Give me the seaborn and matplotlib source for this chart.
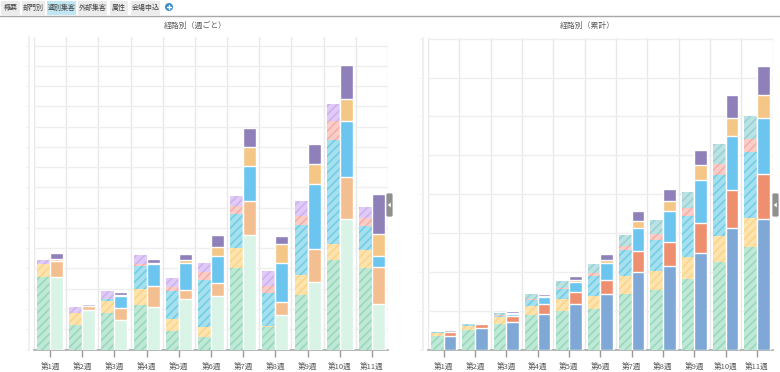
#!/usr/bin/env python3
#
# Weekly and cumulative visitors per channel, paired stacked bars
#
import numpy as np
import pandas as pd
import matplotlib
matplotlib.use('Agg')
import matplotlib.pyplot as plt
from matplotlib.patches import FancyBboxPatch, Rectangle, Circle, Polygon
import seaborn as sns

weeks = ['第1週', '第2週', '第3週', '第4週', '第5週', '第6週', '第7週', '第8週', '第9週', '第10週', '第11週']
tabs = ['概要', '部門別', '週別集客', '外部集客', '属性', '会場申込']
titles = ['経路別（週ごと）', '経路別（累計）']

# Weekly, hatched bar
week_a1 = [36.0, 12.2, 18.1, 22.1, 9.2, 6.1, 40.0, 11.0, 26.8, 44.1, 40.0]
week_a2 = [6.1, 5.9, 5.8, 7.9, 5.8, 4.8, 9.9, 0.7, 10.0, 8.2, 9.1]
week_a3 = [0, 0, 1.2, 11.4, 13.8, 23.5, 17.0, 16.3, 24.7, 51.0, 11.7]
week_a4 = [0, 0, 0, 0.7, 2.0, 3.8, 4.1, 3.5, 4.6, 9.7, 4.0]
week_a5 = [2.1, 3.0, 3.8, 4.6, 4.6, 4.6, 4.9, 7.4, 7.1, 8.2, 5.8]
# Weekly, solid bar
week_b1 = [36.0, 19.6, 14.6, 20.9, 24.7, 26.5, 56.5, 16.8, 33.1, 64.5, 22.4]
week_b2 = [7.9, 1.8, 5.8, 10.5, 4.9, 6.3, 16.8, 6.6, 16.5, 20.6, 18.3]
week_b3 = [0, 0, 5.8, 10.7, 13.0, 13.3, 17.4, 19.4, 31.9, 27.5, 5.6]
week_b4 = [0.7, 0.2, 0.8, 0.5, 1.6, 4.6, 9.5, 9.2, 10.0, 10.9, 10.9]
week_b5 = [3.0, 1.0, 1.2, 2.1, 2.8, 5.8, 9.1, 4.1, 10.0, 16.8, 19.6]
# Cumulative, hatched bar
total_a1 = [36, 49, 66, 88, 98, 104, 142, 154, 181, 226, 265]
total_a2 = [6, 12, 17, 25, 32, 35, 48, 48, 57, 66, 74]
total_a3 = [2, 3, 4, 14, 25, 50, 65, 81, 106, 156, 170]
total_a4 = [0, 0, 1, 3, 3, 8, 11, 15, 20, 29, 34]
total_a5 = [1, 2, 6, 12, 19, 22, 28, 36, 42, 52, 57]
# Cumulative, solid bar
total_b1 = [36, 56, 70, 91, 116, 142, 199, 215, 249, 313, 336]
total_b2 = [9, 9, 15, 26, 31, 38, 54, 61, 77, 98, 115]
total_b3 = [0, 1, 6, 17, 28, 42, 60, 81, 111, 139, 145]
total_b4 = [1, 1, 2, 3, 4, 9, 17, 26, 37, 47, 59]
total_b5 = [3, 3, 5, 7, 10, 15, 26, 29, 40, 57, 76]

# Colours: (hatch line, hatch background)
hatch_week = [('#98d9be', '#bfe8d6'), ('#fcd58a', '#fde3ae'), ('#72cde7', '#a6e0ef'),
              ('#f6afa9', '#f9cdc8'), ('#d0b0f0', '#e0cbf6')]
hatch_total = [('#98d9be', '#bfe8d6'), ('#fcd58a', '#fde3ae'), ('#72cde7', '#a6e0ef'),
               ('#f6afa9', '#f9cdc8'), ('#99d2d4', '#bce2e3')]
solid_week = ['#d9f3e6', '#f4bf90', '#6cc5ee', '#f4c786', '#9080b9']
solid_total = ['#80a8d6', '#ee9070', '#6cc5ee', '#f4c786', '#9080b9']

W, H = 780, 372
sns.set_theme(style='white')
plt.rcParams['font.family'] = ['Noto Sans CJK JP', 'DejaVu Sans']
plt.rcParams['hatch.linewidth'] = 1.2
text_color = '#5c5c5c'


def draw_panel(ax, a_rows, b_rows, hatch_cols, solid_cols, step, ymax, nstep):
    tops_a = np.cumsum(a_rows, axis=0)
    tops_b = np.cumsum(b_rows, axis=0)
    # Tallest layer first, each lower layer painted over it
    for i in range(4, -1, -1):
        df = pd.DataFrame({
            'week': weeks * 2,
            'top': np.concatenate([tops_a[i], tops_b[i]]),
            'bar': ['a'] * 11 + ['b'] * 11,
        })
        sns.barplot(
            data=df, x='week', y='top', hue='bar', order=weeks, hue_order=['a', 'b'],
            palette={'a': hatch_cols[i][1], 'b': solid_cols[i]},
            width=0.81, gap=0, saturation=1, legend=False, ax=ax, zorder=3,
        )
        for patch in ax.containers[-2]:
            patch.set_hatch('////')
            patch.set_edgecolor(hatch_cols[i][0])
            patch.set_linewidth(0)
    ax.set_xlim(-0.5, 10.5)
    ax.set_ylim(0, ymax)
    ax.set_xlabel(None)
    ax.set_ylabel(None)
    ax.set_yticks([step * k for k in range(nstep + 1)])
    ax.set_yticklabels([])
    ax.set_xticks(np.arange(-0.5, 11), minor=True)
    ax.grid(True, which='minor', axis='x', color='#e8e8e8', lw=1, zorder=0)
    ax.grid(True, which='major', axis='y', color='#eeeeee', lw=1, zorder=0)
    ax.set_axisbelow(True)
    ax.tick_params(axis='x', which='major', length=5, width=1, color='#999999',
                   labelsize=5.5, labelcolor=text_color, pad=4.5, bottom=True)
    ax.tick_params(axis='x', which='minor', length=0)
    ax.tick_params(axis='y', length=3, width=0.7, color='#f2f2f2', left=True)
    for side in ['top', 'right']:
        ax.spines[side].set_visible(False)
    ax.spines['bottom'].set_color('#aaaaaa')
    ax.spines['bottom'].set_linewidth(1.2)
    ax.spines['left'].set_color('#ececec')
    ax.spines['left'].set_linewidth(1.2)
    ax.spines['left'].set_position(('outward', 3.6))


fig = plt.figure(figsize=(W / 100, H / 100), dpi=100)


def axes_px(x0, y0, x1, y1):
    return fig.add_axes([x0 / W, 1 - y1 / H, (x1 - x0) / W, (y1 - y0) / H])


ax1 = axes_px(34, 37, 388, 349.5)
draw_panel(ax1, [week_a1, week_a2, week_a3, week_a4, week_a5],
           [week_b1, week_b2, week_b3, week_b4, week_b5],
           hatch_week, solid_week, 10, 154.3, 15)
ax2 = axes_px(428, 38, 772.5, 349.5)
draw_panel(ax2, [total_a1, total_a2, total_a3, total_a4, total_a5],
           [total_b1, total_b2, total_b3, total_b4, total_b5],
           hatch_total, solid_total, 100, 802, 8)

# Page furniture, in pixel coordinates
page = fig.add_axes([0, 0, 1, 1], facecolor='none')
page.set_xlim(0, W)
page.set_ylim(H, 0)
page.axis('off')

tab_spans = [(1, 20), (22, 45), (47, 76), (78, 107), (110, 128), (131, 160)]
for name, (x0, x1) in zip(tabs, tab_spans):
    active = name == '週別集客'
    page.add_patch(Rectangle((x0, 1), x1 - x0, 13.5, lw=0,
                             fc='#bfe6f2' if active else '#ececec'))
    page.text((x0 + x1) / 2, 10.3, name, ha='center', va='baseline', fontsize=5.0, color='#444444')
page.plot([0, W], [15.5, 15.5], color='#a8a8a8', lw=1)
page.add_patch(Circle((169, 7), 4, lw=0, fc='#3a8fc8'))
page.plot([166.8, 171.2], [7, 7], color='white', lw=1)
page.plot([169, 169], [4.8, 9.2], color='white', lw=1)

page.text(195, 27.5, titles[0], ha='center', va='baseline', fontsize=5.7, color=text_color)
page.text(587, 27.5, titles[1], ha='center', va='baseline', fontsize=5.7, color=text_color)

for x in [386, 772]:
    page.add_patch(FancyBboxPatch((x + 1, 194), 5, 22, boxstyle='round,pad=0.6,rounding_size=1.5',
                                  lw=0, fc='#8f8f8f'))
    page.add_patch(Polygon([(x + 1.8, 205), (x + 4.8, 202.5), (x + 4.8, 207.5)], lw=0, fc='white'))

fig.savefig('out.png', dpi=100)
